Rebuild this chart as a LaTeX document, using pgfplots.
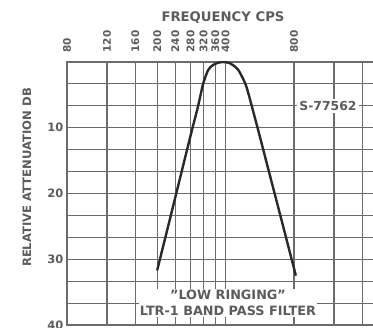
\documentclass[border=0pt]{standalone}
\usepackage{fontspec}
\setmainfont{DejaVu Sans}
\usepackage{pgfplots}
\pgfplotsset{compat=1.18}
\definecolor{txt}{rgb}{0.36,0.36,0.36}
\definecolor{gridc}{rgb}{0.42,0.42,0.42}
\definecolor{curve}{rgb}{0.16,0.16,0.16}
\begin{document}
\begin{tikzpicture}
\begin{axis}[
  at={(0pt,0pt)}, anchor=north west,
  scale only axis, width=317.3pt, height=263pt,
  xmode=log, xmin=80, xmax=2000,
  ymin=0, ymax=40, y dir=reverse,
  xtick={80,120,160,200,240,280,320,360,400,800,1200,1600},
  xticklabels={80,120,160,200,240,280,320,360,400,800,,},
  xticklabel pos=upper,
  xticklabel shift=6pt,
  x tick label style={rotate=90, anchor=west, font=\fontsize{10.5}{12}\selectfont\bfseries, text=txt},
  ytick={0,10,20,30,40},
  yticklabels={,10,20,30,40},
  y tick label style={font=\fontsize{11.5}{13}\selectfont\bfseries, text=txt},
  minor ytick={3.333,6.667,13.333,16.667,23.333,26.667,33.333,36.667},
  major tick length=0pt, minor tick length=0pt,
  grid=both,
  major grid style={gridc, line width=1.1pt},
  minor grid style={gridc, line width=1.1pt},
  axis line style={gridc, line width=1.3pt},
  log ticks with fixed point,
]
\addplot[curve, line width=2.4pt, line cap=round, smooth, tension=0.5] coordinates {
(200,31.6) (226.8,24.0) (257.1,16.4) (284.3,10.33) (300,7.2) (312,4.6) (319,3.2) (335,1.22) (352,0.46) (370,0.12) (391,0) (412,0.12) (430,0.46) (455,1.22) (487,3.2) (502,4.6) (526,7.2) (556,10.33) (617.6,16.4) (704.6,24.0) (814,32.4)
};
\end{axis}
\node[text=txt, font=\fontsize{13.2}{14}\selectfont\bfseries] at (156pt,44.5pt) {FREQUENCY CPS};
\node[text=txt, rotate=90, font=\fontsize{11.6}{13}\selectfont\bfseries] at (-40pt,-115.5pt) {RELATIVE ATTENUATION DB};
\node[text=txt, fill=white, inner sep=2pt, font=\fontsize{12.4}{14}\selectfont\bfseries] at (261pt,-44pt) {S-77562};
\node[text=txt, fill=white, inner sep=1pt, align=center, font=\fontsize{12.8}{16}\selectfont\bfseries] at (161pt,-241pt) {"LOW RINGING"\\LTR-1 BAND PASS FILTER};
\pgfresetboundingbox
\path[use as bounding box] (-67pt,-266pt) rectangle (306pt,62pt);
\end{tikzpicture}
\end{document}
